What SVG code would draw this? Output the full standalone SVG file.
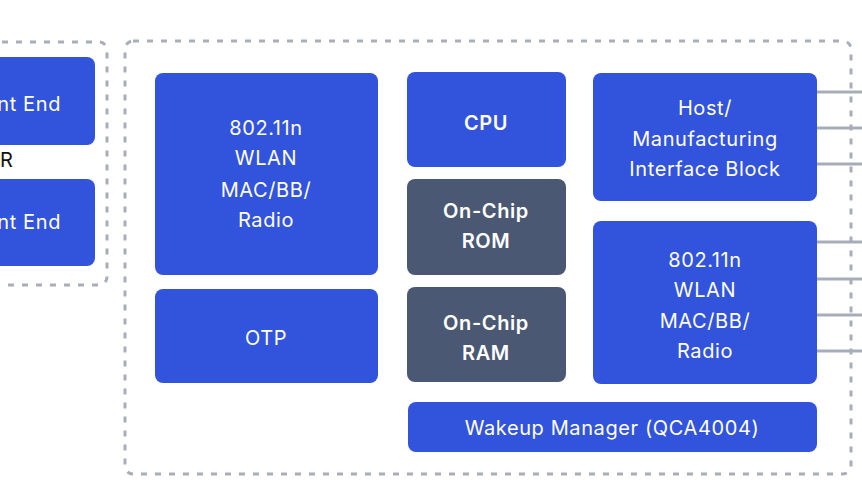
<svg xmlns="http://www.w3.org/2000/svg" width="862" height="504" viewBox="0 0 862 504">
<style>
.blue{fill:#3253dc}
.slate{fill:#4a5874}
.frame{fill:none;stroke:#a8adba;stroke-width:3;stroke-dasharray:6 8}
.wire{stroke:#a7adb8;stroke-width:3;fill:none}
text{font-family:Inter,"Noto Sans","Liberation Sans",sans-serif;font-size:20px;letter-spacing:0.6px;fill:#ffffff;text-anchor:middle}
.b{font-weight:600}
.dark{fill:#111111}
</style>
<rect width="862" height="504" fill="#ffffff"/>
<g id="frames">
<rect class="frame" x="-20" y="42" width="127" height="243" rx="8"/>
<rect class="frame" x="125" y="41" width="726" height="433" rx="8"/>
</g>
<g id="connectors">
<line class="wire" x1="817" y1="92" x2="862" y2="92"/>
<line class="wire" x1="817" y1="128" x2="862" y2="128"/>
<line class="wire" x1="817" y1="164" x2="862" y2="164"/>
<line class="wire" x1="817" y1="242" x2="862" y2="242"/>
<line class="wire" x1="817" y1="279" x2="862" y2="279"/>
<line class="wire" x1="817" y1="315" x2="862" y2="315"/>
<line class="wire" x1="817" y1="351" x2="862" y2="351"/>
</g>
<g id="frontend1">
<rect class="blue" x="-20" y="57" width="115" height="88" rx="8"/>
<text x="61" y="111" style="text-anchor:end">nt End</text>
</g>
<text class="dark" x="0" y="167" style="text-anchor:start">R</text>
<g id="frontend2">
<rect class="blue" x="-20" y="179" width="115" height="87" rx="8"/>
<text x="61" y="229" style="text-anchor:end">nt End</text>
</g>
<g id="wlan-left">
<rect class="blue" x="155" y="73" width="223" height="202" rx="8"/>
<text x="266" y="135">802.11n</text>
<text x="266" y="165">WLAN</text>
<text x="266" y="197">MAC/BB/</text>
<text x="266" y="227">Radio</text>
</g>
<g id="otp">
<rect class="blue" x="155" y="289" width="223" height="94" rx="8"/>
<text x="266" y="345">OTP</text>
</g>
<g id="cpu">
<rect class="blue" x="407" y="72" width="159" height="95" rx="8"/>
<text class="b" x="486" y="130">CPU</text>
</g>
<g id="rom">
<rect class="slate" x="407" y="179" width="159" height="96" rx="8"/>
<text class="b" x="486" y="218">On-Chip</text>
<text class="b" x="486" y="248">ROM</text>
</g>
<g id="ram">
<rect class="slate" x="407" y="287" width="159" height="95" rx="8"/>
<text class="b" x="486" y="330">On-Chip</text>
<text class="b" x="486" y="360">RAM</text>
</g>
<g id="host">
<rect class="blue" x="593" y="73" width="224" height="128" rx="8"/>
<text x="705" y="115">Host/</text>
<text x="705" y="146">Manufacturing</text>
<text x="705" y="176">Interface Block</text>
</g>
<g id="wlan-right">
<rect class="blue" x="593" y="221" width="224" height="163" rx="8"/>
<text x="705" y="267">802.11n</text>
<text x="705" y="297">WLAN</text>
<text x="705" y="328">MAC/BB/</text>
<text x="705" y="358">Radio</text>
</g>
<g id="wakeup">
<rect class="blue" x="408" y="402" width="409" height="50" rx="8"/>
<text x="612" y="435">Wakeup Manager (QCA4004)</text>
</g>
</svg>
